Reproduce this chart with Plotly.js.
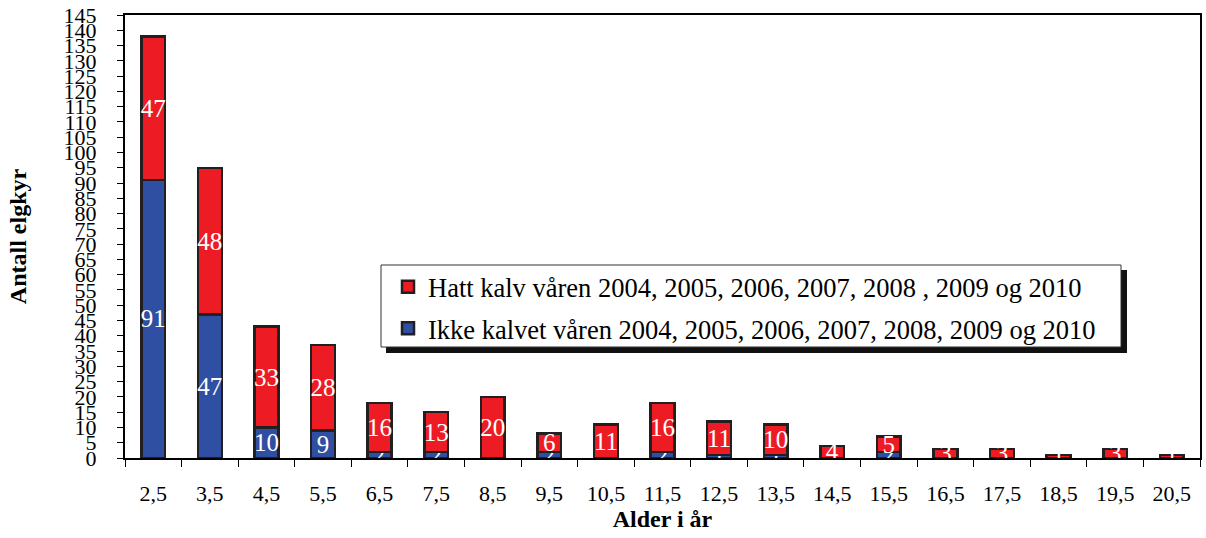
<!DOCTYPE html>
<html><head><meta charset="utf-8">
<script src="https://cdn.plot.ly/plotly-3.0.1.min.js"></script>
<style>body{margin:0;background:#fff}#c{width:1206px;height:538px}</style>
</head><body><div id="c"></div>
<script>
const ages = ["2,5","3,5","4,5","5,5","6,5","7,5","8,5","9,5","10,5","11,5","12,5","13,5","14,5","15,5","16,5","17,5","18,5","19,5","20,5"];
const ikkeKalvet = [91,47,10,9,2,2,0,2,0,2,1,1,0,2,0,0,0,0,0];
const hattKalv = [47,48,33,28,16,13,20,6,11,16,11,10,4,5,3,3,1,3,1];
const nameHatt = "Hatt kalv våren 2004, 2005, 2006, 2007, 2008 , 2009 og 2010";
const nameIkke = "Ikke kalvet våren 2004, 2005, 2006, 2007, 2008, 2009 og 2010";
const yTicks = [];
for (let v = 0; v <= 145; v += 5) yTicks.push(v);

const serif = "'Liberation Serif', 'Times New Roman', serif";
const lbl = a => a.map(v => v ? String(v) : "");
const common = {
  type: "bar", x: ages, width: 0.42,
  textposition: "inside", insidetextanchor: "middle", constraintext: "none", textangle: 0,
  textfont: {family: serif, size: 25, color: "#ffffff"},
  hoverinfo: "none"
};
const traces = [
  Object.assign({}, common, {y: ikkeKalvet, text: lbl(ikkeKalvet), name: nameIkke, legendrank: 2, legendgroup: "b",
    marker: {color: "#2e4fa2", line: {color: "#231f20", width: 2.5}}}),
  Object.assign({}, common, {y: hattKalv, text: lbl(hattKalv), name: nameHatt, legendrank: 1, legendgroup: "a",
    marker: {color: "#ed1c24", line: {color: "#231f20", width: 2.5}}})
];
const px = (x) => (x - 125) / 1075, py = (y) => (458 - y) / 443;
const layout = {
  width: 1206, height: 538,
  margin: {l: 125, r: 6, t: 15, b: 80},
  paper_bgcolor: "#fff", plot_bgcolor: "#fff",
  barmode: "stack", bargap: 0.58,
  font: {family: serif, color: "#000"},
  showlegend: true,
  legend: {x: px(388), y: py(263), xanchor: "left", yanchor: "top", traceorder: "grouped",
    tracegroupgap: 4,
    bgcolor: "rgba(0,0,0,0)", borderwidth: 0,
    font: {family: serif, size: 26.5, color: "#000"}},
  shapes: [
    {type: "rect", xref: "paper", yref: "paper", x0: px(386), x1: px(1127), y0: py(353), y1: py(270),
      fillcolor: "#111", line: {width: 0}, layer: "above"},
    {type: "rect", xref: "paper", yref: "paper", x0: px(381), x1: px(1121), y0: py(347), y1: py(265),
      fillcolor: "#fff", line: {width: 1, color: "#333"}, layer: "above"}
  ],
  xaxis: {type: "category", tickson: "boundaries", ticks: "outside", ticklen: 7, tickcolor: "#000",
    ticklabelstandoff: 15,
    tickfont: {family: serif, size: 22}, showline: true, linecolor: "#000", linewidth: 2, mirror: true,
    showgrid: false, title: {text: "Alder i år", font: {family: serif, size: 24, weight: "bold"}, standoff: 4}},
  yaxis: {range: [0, 145], tickvals: yTicks, ticktext: yTicks.map(String), ticks: "outside", ticklen: 6,
    ticklabelstandoff: 16,
    tickcolor: "#000", tickfont: {family: serif, size: 22}, showline: true, linecolor: "#000", linewidth: 2,
    mirror: true, showgrid: false, zeroline: false,
    title: {text: "Antall elgkyr", font: {family: serif, size: 24, weight: "bold"}, standoff: 30}}
};
Plotly.newPlot("c", traces, layout, {displayModeBar: false, staticPlot: true});
</script></body></html>
